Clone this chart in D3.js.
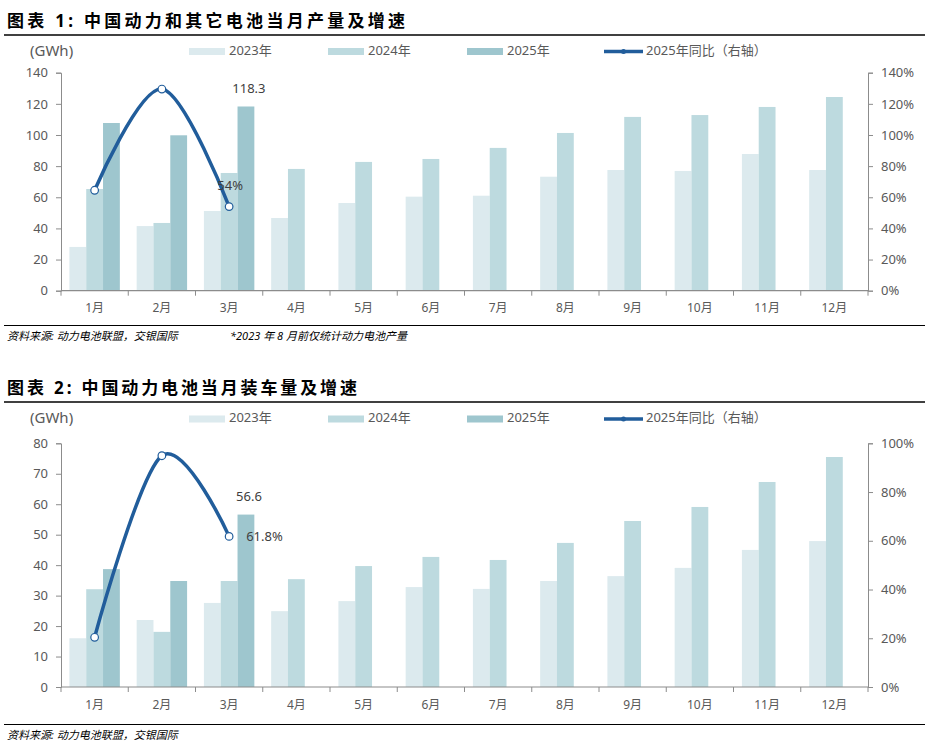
<!DOCTYPE html>
<html>
<head>
<meta charset="utf-8">
<script src="https://cdn.jsdelivr.net/npm/d3@7"></script>
<style>
  body { margin: 0; background: #fff; }
  svg { display: block; }
  text { font-family: "Noto Sans", "Noto Sans CJK SC", sans-serif; }
</style>
</head>
<body>
<svg id="chart" width="929" height="753"></svg>
<script>
// months and series
const months = ['1月','2月','3月','4月','5月','6月','7月','8月','9月','10月','11月','12月'];
const seriesNames = ['2023年','2024年','2025年'];
const lineName = '2025年同比（右轴）';

// chart 1: output (GWh)
const prod2023 = [28.1, 41.5, 51.2, 46.7, 56.3, 60.4, 61.0, 73.2, 77.5, 76.9, 87.8, 77.5];
const prod2024 = [65.3, 43.5, 75.6, 78.2, 82.7, 84.6, 91.7, 101.3, 111.6, 112.8, 118.0, 124.4];
const prod2025 = [107.7, 99.8, 118.3];
const prodYoy = [64.5, 129.5, 54];

// chart 2: installed (GWh)
const inst2023 = [16.0, 22.0, 27.6, 24.9, 28.2, 32.8, 32.2, 34.8, 36.4, 39.1, 45.0, 47.9];
const inst2024 = [32.1, 18.1, 34.8, 35.4, 39.7, 42.7, 41.7, 47.3, 54.5, 59.1, 67.3, 75.5];
const inst2025 = [38.7, 34.8, 56.6];
const instYoy = [20.4, 94.9, 61.8];

const colors = ['#dceaee', '#bddadf', '#9ec6ce'];
const lineColor = '#215d9b';
const axisColor = '#8c8c8c';
const textColor = '#595959';

const svg = d3.select('#chart');

function drawChart(cfg) {
  const g = svg.append('g');

  // title and rule
  g.append('text')
    .attr('x', 7).attr('y', cfg.titleY)
    .attr('textLength', cfg.titleW).attr('lengthAdjust', 'spacing')
    .attr('font-family', '"Noto Sans CJK SC", sans-serif')
    .attr('font-weight', 'bold').attr('font-size', 17).attr('fill', '#000')
    .text(cfg.title);
  g.append('line')
    .attr('x1', 4).attr('x2', 925).attr('y1', cfg.ruleY).attr('y2', cfg.ruleY)
    .attr('stroke', '#000').attr('stroke-width', 1.5);

  const x = d3.scaleBand().domain(months).range([61, 868])
    .paddingInner(0.25).paddingOuter(0.125);
  const xs = d3.scaleBand().domain(seriesNames).range([0, x.bandwidth()]);
  const y = d3.scaleLinear().domain([0, cfg.yMax]).range([cfg.bottom, cfg.top]);
  const yr = d3.scaleLinear().domain([0, cfg.rMax]).range([cfg.bottom, cfg.top]);

  // bars
  cfg.series.forEach((vals, si) => {
    g.append('g').selectAll('rect')
      .data(vals)
      .enter().append('rect')
      .attr('x', (d, i) => x(months[i]) + xs(seriesNames[si]))
      .attr('width', xs.bandwidth())
      .attr('y', d => y(d))
      .attr('height', d => y(0) - y(d))
      .attr('fill', colors[si]);
  });

  // left axis
  const yAxis = g.append('g').attr('transform', 'translate(61,0)')
    .call(d3.axisLeft(y).tickValues(d3.range(0, cfg.yMax + 1, cfg.yStep)).tickSize(5).tickPadding(8));
  // right axis
  const rAxis = g.append('g').attr('transform', 'translate(868,0)')
    .call(d3.axisRight(yr).tickValues(d3.range(0, cfg.rMax + 1, 20)).tickSize(5).tickPadding(8)
      .tickFormat(d => d + '%'));
  [yAxis, rAxis].forEach(a => {
    a.select('.domain').attr('stroke', axisColor);
    a.selectAll('.tick line').attr('stroke', axisColor);
    a.selectAll('.tick text').attr('fill', textColor).attr('font-size', 13)
      .attr('font-family', '"Noto Sans", sans-serif');
  });

  // x axis: ticks between categories
  const xAxis = g.append('g').attr('transform', `translate(0,${cfg.bottom})`);
  xAxis.append('line').attr('x1', 61).attr('x2', 868)
    .attr('stroke', axisColor).attr('stroke-width', 1.2);
  xAxis.selectAll('.xt').data(d3.range(13)).enter().append('line')
    .attr('x1', i => 61 + i * x.step()).attr('x2', i => 61 + i * x.step())
    .attr('y1', 0).attr('y2', 5).attr('stroke', axisColor);
  xAxis.selectAll('.xl').data(months).enter().append('text')
    .attr('x', d => x(d) + x.bandwidth() / 2).attr('y', cfg.xLabelY - cfg.bottom)
    .attr('text-anchor', 'middle').attr('dominant-baseline', 'middle')
    .attr('font-size', 12).attr('fill', textColor)
    .attr('font-family', '"Noto Sans CJK SC", sans-serif')
    .text(d => d);

  // yoy line
  const pts = cfg.yoy.map((v, i) => [x(months[i]) + x.bandwidth() / 2, yr(v)]);
  g.append('path')
    .attr('d', d3.line().curve(d3.curveCardinal)(pts))
    .attr('fill', 'none').attr('stroke', lineColor).attr('stroke-width', 3.5);
  g.selectAll('.mk').data(pts).enter().append('circle')
    .attr('cx', d => d[0]).attr('cy', d => d[1]).attr('r', 3.8)
    .attr('fill', '#fff').attr('stroke', lineColor).attr('stroke-width', 1.2);

  // data labels
  const last = cfg.series[2].length - 1;
  g.append('text')
    .attr('x', x(months[last]) + xs(seriesNames[2]) + xs.bandwidth() / 2 + 3)
    .attr('y', y(cfg.series[2][last]) - 17)
    .attr('text-anchor', 'middle').attr('dominant-baseline', 'middle')
    .attr('font-size', 13).attr('fill', '#404040')
    .text(cfg.series[2][last].toFixed(1));
  g.append('text')
    .attr('x', pts[last][0] + cfg.pctDx).attr('y', yr(cfg.yoy[last]) + cfg.pctDy)
    .attr('text-anchor', cfg.pctAnchor).attr('dominant-baseline', 'middle')
    .attr('font-size', 13).attr('fill', '#404040')
    .text(cfg.pctLabel);

  // unit
  g.append('text')
    .attr('x', 30).attr('y', cfg.legendY)
    .attr('dominant-baseline', 'middle').attr('font-size', 15).attr('fill', textColor)
    .text('(GWh)');

  // legend
  const legX = [189, 328, 467];
  seriesNames.forEach((s, i) => {
    g.append('rect').attr('x', legX[i]).attr('y', cfg.legendY - 3.5)
      .attr('width', 36).attr('height', 7).attr('fill', colors[i]);
    g.append('text').attr('x', legX[i] + 40).attr('y', cfg.legendY)
      .attr('dominant-baseline', 'middle').attr('font-size', 13).attr('fill', textColor)
      .attr('font-family', '"Noto Sans CJK SC", sans-serif')
      .text(s);
  });
  g.append('line').attr('x1', 604).attr('x2', 643)
    .attr('y1', cfg.legendY).attr('y2', cfg.legendY)
    .attr('stroke', lineColor).attr('stroke-width', 3.5);
  g.append('circle').attr('cx', 623.5).attr('cy', cfg.legendY).attr('r', 2.5)
    .attr('fill', lineColor);
  g.append('text').attr('x', 646).attr('y', cfg.legendY)
    .attr('dominant-baseline', 'middle').attr('font-size', 13).attr('fill', textColor)
    .attr('font-family', '"Noto Sans CJK SC", sans-serif')
    .text(lineName);

  // bottom rule and source
  g.append('line')
    .attr('x1', 4).attr('x2', 925).attr('y1', cfg.footY).attr('y2', cfg.footY)
    .attr('stroke', '#000').attr('stroke-width', 1.2);
  cfg.notes.forEach(n => {
    g.append('text').attr('x', n.x).attr('y', cfg.footY + 12)
      .attr('dominant-baseline', 'middle').attr('font-size', 11)
      .attr('font-style', 'italic').attr('fill', '#000')
      .attr('font-family', '"Noto Sans CJK SC", sans-serif')
      .text(n.t);
  });
}

drawChart({
  title: '图表 1: 中国动力和其它电池当月产量及增速', titleY: 27, titleW: 398, ruleY: 35,
  top: 72.7, bottom: 290.7, yMax: 140, yStep: 20, rMax: 140,
  series: [prod2023, prod2024, prod2025], yoy: prodYoy,
  legendY: 51.5, xLabelY: 309, footY: 325.5,
  pctLabel: '54%', pctDx: 1, pctDy: -20, pctAnchor: 'middle',
  notes: [{x: 7, t: '资料来源: 动力电池联盟，交银国际'}, {x: 230, t: '*2023 年 8 月前仅统计动力电池产量'}]
});

drawChart({
  title: '图表 2: 中国动力电池当月装车量及增速', titleY: 394, titleW: 350, ruleY: 402,
  top: 443.3, bottom: 687, yMax: 80, yStep: 10, rMax: 100,
  series: [inst2023, inst2024, inst2025], yoy: instYoy,
  legendY: 419, xLabelY: 705.5, footY: 724.5,
  pctLabel: '61.8%', pctDx: 17, pctDy: 1, pctAnchor: 'start',
  notes: [{x: 7, t: '资料来源: 动力电池联盟，交银国际'}]
});
</script>
</body>
</html>
